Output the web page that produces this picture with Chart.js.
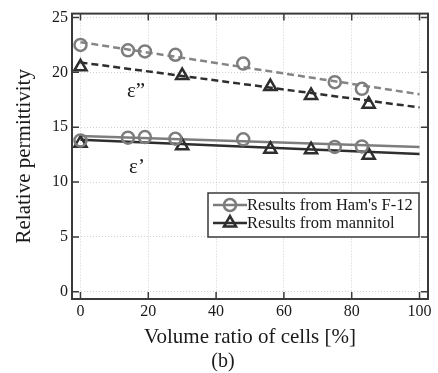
<!DOCTYPE html>
<html lang="en">
<head>
  <meta charset="UTF-8" />
  <title>Relative permittivity vs volume ratio</title>
  <script src="https://cdn.jsdelivr.net/npm/chart.js"></script>
  <style>
    html, body { margin: 0; padding: 0; background: #fff; }
    #wrap { width: 438px; height: 373px; position: relative; }
  </style>
</head>
<body>
  <div id="wrap"><canvas id="chart" width="438" height="373"></canvas></div>

  <script>
    // Ticks
    const xTicks = [0, 20, 40, 60, 80, 100];
    const yTicks = [0, 5, 10, 15, 20, 25];

    // Measured points - Ham's F-12
    const hamX = [0, 14, 19, 28, 48, 75, 83];
    const hamEps2 = [22.5, 22.0, 21.9, 21.6, 20.8, 19.1, 18.5];
    const hamEps1 = [13.8, 14.05, 14.1, 13.95, 13.9, 13.2, 13.25];

    // Measured points - mannitol
    const manX = [0, 30, 56, 68, 85];
    const manEps2 = [20.5, 19.7, 18.7, 17.9, 17.1];
    const manEps1 = [13.55, 13.3, 13.0, 12.95, 12.45];

    // Fitted lines (read at the ends of each line)
    const fitX = [0, 100];
    const hamFit2 = [22.75, 18.0];
    const manFit2 = [20.9, 16.8];
    const hamFit1 = [14.2, 13.2];
    const manFit1 = [13.85, 12.55];

    const legendLabels = ["Results from Ham's F-12", "Results from mannitol"];

    const GRAY = "#7d7d7d";
    const DARK = "#2e2e2e";
    const SERIF = "'Liberation Serif', 'Times New Roman', serif";

    const pts = (xs, ys) => xs.map((x, i) => ({ x, y: ys[i] }));

    function fitSet(ys, color, dash) {
      return { type: "line", data: pts(fitX, ys), borderColor: color, borderWidth: 2.5,
               borderDash: dash, pointRadius: 0, fill: false, order: 2 };
    }
    function markSet(xs, ys, color, style) {
      return { type: "scatter", data: pts(xs, ys), borderColor: color, backgroundColor: "rgba(255,255,255,0)",
               pointStyle: style, pointRadius: style === "triangle" ? 7 : 6, pointBorderWidth: 2.5, order: 1 };
    }

    function drawMarker(ctx, style, x, y, color) {
      ctx.save();
      ctx.strokeStyle = color;
      ctx.lineWidth = 2.5;
      ctx.beginPath();
      if (style === "circle") {
        ctx.arc(x, y, 6, 0, Math.PI * 2);
      } else {
        const r = 7;
        ctx.moveTo(x, y - r);
        ctx.lineTo(x + r * Math.cos(Math.PI / 6), y + r / 2);
        ctx.lineTo(x - r * Math.cos(Math.PI / 6), y + r / 2);
        ctx.closePath();
      }
      ctx.stroke();
      ctx.restore();
    }

    const decor = {
      id: "decor",
      afterDraw(chart) {
        const { ctx, chartArea: a, scales } = chart;
        ctx.save();
        // frame
        ctx.strokeStyle = "#3a3a3a";
        ctx.lineWidth = 2;
        ctx.strokeRect(a.left, a.top, a.right - a.left, a.bottom - a.top);
        // inward ticks
        ctx.lineWidth = 1.5;
        ctx.beginPath();
        xTicks.forEach(v => {
          const px = scales.x.getPixelForValue(v);
          ctx.moveTo(px, a.bottom); ctx.lineTo(px, a.bottom - 7);
          ctx.moveTo(px, a.top); ctx.lineTo(px, a.top + 7);
        });
        yTicks.forEach(v => {
          const py = scales.y.getPixelForValue(v);
          ctx.moveTo(a.left, py); ctx.lineTo(a.left + 7, py);
          ctx.moveTo(a.right, py); ctx.lineTo(a.right - 7, py);
        });
        ctx.stroke();

        // axis titles
        ctx.fillStyle = "#1a1a1a";
        ctx.textAlign = "center";
        ctx.textBaseline = "middle";
        ctx.font = "21px " + SERIF;
        ctx.fillText("Volume ratio of cells [%]", (a.left + a.right) / 2, 337);
        ctx.save();
        ctx.translate(24, (a.top + a.bottom) / 2);
        ctx.rotate(-Math.PI / 2);
        ctx.fillText("Relative permittivity", 0, 0);
        ctx.restore();
        ctx.font = "20px " + SERIF;
        ctx.fillText("(b)", 223, 362);

        // epsilon labels
        ctx.font = "21px " + SERIF;
        ctx.fillText("\u03B5\u201D", 136, 91);
        ctx.fillText("\u03B5\u2019", 137, 167);

        // legend
        const lx = 208, ly = 193, lw = 211, lh = 44;
        ctx.fillStyle = "#fff";
        ctx.fillRect(lx, ly, lw, lh);
        ctx.strokeStyle = "#3a3a3a";
        ctx.lineWidth = 1.5;
        ctx.strokeRect(lx, ly, lw, lh);
        const rows = [
          { y: 205, color: GRAY, style: "circle" },
          { y: 223, color: DARK, style: "triangle" }
        ];
        ctx.font = "16.5px " + SERIF;
        ctx.textAlign = "left";
        rows.forEach((r, i) => {
          ctx.strokeStyle = r.color;
          ctx.lineWidth = 2.5;
          ctx.beginPath();
          ctx.moveTo(213, r.y); ctx.lineTo(247, r.y);
          ctx.stroke();
          drawMarker(ctx, r.style, 230, r.y, r.color);
          ctx.fillStyle = "#1a1a1a";
          ctx.fillText(legendLabels[i], 247, r.y + 1);
        });
        ctx.restore();
      }
    };

    const tickFont = { family: SERIF, size: 16 };

    new Chart(document.getElementById("chart"), {
      data: {
        datasets: [
          fitSet(hamFit2, "#858585", [7, 4]),
          fitSet(manFit2, DARK, [7, 4]),
          fitSet(hamFit1, GRAY, []),
          fitSet(manFit1, DARK, []),
          markSet(hamX, hamEps2, GRAY, "circle"),
          markSet(hamX, hamEps1, GRAY, "circle"),
          markSet(manX, manEps2, DARK, "triangle"),
          markSet(manX, manEps1, DARK, "triangle")
        ]
      },
      options: {
        responsive: false,
        animation: false,
        layout: { padding: { left: 0, right: 10, top: 12, bottom: 0 } },
        plugins: { legend: { display: false }, tooltip: { enabled: false } },
        scales: {
          x: {
            type: "linear", min: -2.5, max: 102.5,
            afterBuildTicks: s => { s.ticks = xTicks.map(v => ({ value: v })); },
            afterFit: s => { s.height = 74; },
            ticks: { font: tickFont, color: "#1a1a1a", padding: 3, maxRotation: 0 },
            grid: { color: "#d0d0d0", lineWidth: 1, drawTicks: false },
            border: { display: false, dash: [1, 2] }
          },
          y: {
            type: "linear", min: -0.65, max: 25.35,
            afterBuildTicks: s => { s.ticks = yTicks.map(v => ({ value: v })); },
            afterFit: s => { s.width = 72; },
            ticks: { font: tickFont, color: "#1a1a1a", padding: 4 },
            grid: { color: "#d0d0d0", lineWidth: 1, drawTicks: false },
            border: { display: false, dash: [1, 2] }
          }
        }
      },
      plugins: [decor]
    });
  </script>
</body>
</html>
